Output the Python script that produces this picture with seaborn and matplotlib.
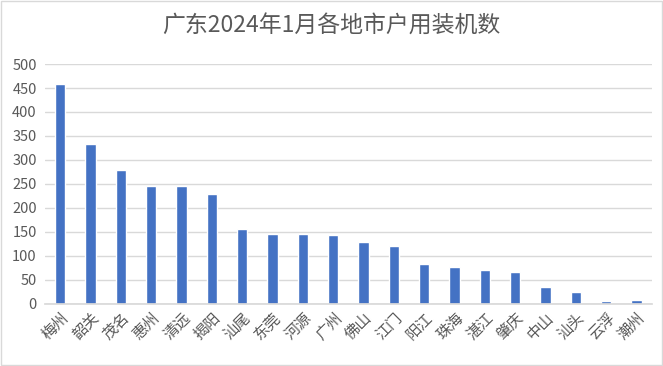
import matplotlib
matplotlib.use("Agg")
import matplotlib.pyplot as plt
import seaborn as sns
import pandas as pd
from matplotlib.patches import Rectangle

# 数据
cities = ["梅州", "韶关", "茂名", "惠州", "清远", "揭阳", "汕尾", "东莞", "河源", "广州",
          "佛山", "江门", "阳江", "珠海", "湛江", "肇庆", "中山", "汕头", "云浮", "潮州"]
counts = [459, 334, 280, 246, 246, 228, 157, 146, 146, 144,
          128, 121, 84, 76, 71, 67, 34, 25, 5, 7]
yticks = [0, 50, 100, 150, 200, 250, 300, 350, 400, 450, 500]

df = pd.DataFrame({"city": cities, "count": counts})

sns.set_theme(style="white")
plt.rcParams['font.family'] = ['Noto Sans CJK SC', 'DejaVu Sans']

fig = plt.figure(figsize=(6.63, 3.66), dpi=100)
ax = fig.add_axes([0.068, 0.17, 0.915, 0.655])

sns.barplot(data=df, x="city", y="count", color="#4472C4", width=0.34,
            saturation=1, ax=ax)

ax.set_ylim(0, 500)
ax.set_yticks(yticks)
ax.set_xlim(-0.5, len(cities) - 0.5)
ax.yaxis.grid(True, color="#D9D9D9", linewidth=1)
ax.set_axisbelow(True)
for s in ["top", "right", "left"]:
    ax.spines[s].set_visible(False)
ax.spines["bottom"].set_color("#D9D9D9")
ax.set_xlabel("")
ax.set_ylabel("")
ax.tick_params(axis="both", length=0, colors="#595959", labelsize=10.5)
ax.tick_params(axis="x", labelsize=11, pad=4)
ax.tick_params(axis="y", pad=6)
plt.setp(ax.get_xticklabels(), rotation=45, ha="right", rotation_mode="anchor")

fig.suptitle("广东2024年1月各地市户用装机数", y=0.96, fontsize=16.5, color="#595959")

# 外框
fig.patches.append(Rectangle((0.001, 0.002), 0.997, 0.995, transform=fig.transFigure,
                             fill=False, edgecolor="#D9D9D9", linewidth=1))

fig.savefig("out.png", dpi=100)
